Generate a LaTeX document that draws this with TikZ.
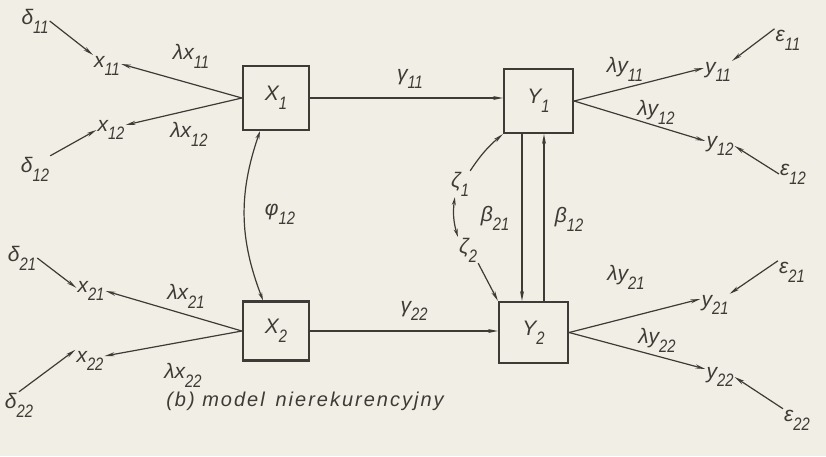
\documentclass[tikz,border=0pt]{standalone}
\usepackage{fontspec}
\usepackage{graphicx}
\setmainfont{Liberation Sans}
\newfontfamily\capfont[LetterSpace=10]{Liberation Sans}
\usetikzlibrary{arrows.meta}
\definecolor{paper}{RGB}{241,238,229}
\definecolor{ink}{RGB}{62,58,54}
\newcommand\lb[2]{#1\raisebox{-0.42em}{\scalebox{0.82}[1]{\fontsize{18}{18}\selectfont #2}}}
\begin{document}
\begin{tikzpicture}[x=1pt,y=-1pt,
  every node/.style={text=ink, font=\fontsize{21}{21}\selectfont\itshape, inner sep=1pt},
  box/.style={draw=ink, line width=2.2pt, inner sep=0pt},
  arr/.style={draw=ink, line width=1.2pt, -{Stealth[length=10pt,width=4pt]}},
  darr/.style={draw=ink, line width=1.2pt, {Stealth[length=8pt,width=4pt]}-{Stealth[length=8pt,width=4pt]}}]
\fill[paper] (0,0) rectangle (826,456);
\useasboundingbox (0,0) rectangle (826,456);
% boxes
\node[box, minimum width=66pt, minimum height=64pt] (X1) at (276,98) {\lb{X}{1}};
\node[box, minimum width=69pt, minimum height=64pt] (Y1) at (538.5,101) {\lb{Y}{1}};
\node[box, minimum width=66pt, minimum height=59pt] (X2) at (276,331) {\lb{X}{2}};
\node[box, minimum width=69pt, minimum height=61pt] (Y2) at (533.5,332.5) {\lb{Y}{2}};
% left labels
\node (d11) at (35,21) {\lb{δ}{11}};
\node (x11) at (107,66) {\lb{x}{11}};
\node (lx11) at (191,56) {\lb{λx}{11}};
\node (x12) at (111,130) {\lb{x}{12}};
\node (lx12) at (189,134) {\lb{λx}{12}};
\node (d12) at (35,169) {\lb{δ}{12}};
\node (d21) at (22,258) {\lb{δ}{21}};
\node (x21) at (91,291) {\lb{x}{21}};
\node (lx21) at (186,296) {\lb{λx}{21}};
\node (x22) at (90,361) {\lb{x}{22}};
\node (lx22) at (183,375) {\lb{λx}{22}};
\node (d22) at (19,405) {\lb{δ}{22}};
% middle labels
\node (g11) at (410,79) {\lb{γ}{11}};
\node (g22) at (414,311) {\lb{γ}{22}};
\node (phi) at (280,214) {\lb{φ}{12}};
\node (z1) at (460,184) {\lb{ζ}{1}};
\node (z2) at (468,250) {\lb{ζ}{2}};
\node (b21) at (495,218) {\lb{β}{21}};
\node (b12) at (569,219) {\lb{β}{12}};
% right labels
\node (ly11) at (625,69) {\lb{λy}{11}};
\node (y11) at (718,72) {\lb{y}{11}};
\node (e11) at (788,40) {\lb{ε}{11}};
\node (ly12) at (656,112) {\lb{λy}{12}};
\node (y12) at (720,146) {\lb{y}{12}};
\node (e12) at (793,174) {\lb{ε}{12}};
\node (ly21) at (626,277) {\lb{λy}{21}};
\node (y21) at (715,305) {\lb{y}{21}};
\node (e21) at (792,272) {\lb{ε}{21}};
\node (ly22) at (657,340) {\lb{λy}{22}};
\node (y22) at (720,377) {\lb{y}{22}};
\node (e22) at (797,420) {\lb{ε}{22}};
% caption
\node (cap) at (305,401) {\fontsize{20}{20}\selectfont\capfont\itshape (b) model\ \,nierekurencyjny};
% connectors: X side
\draw[arr] (X1.west) -- ([yshift=2pt]x11.east);
\draw[arr] (X1.west) -- ([yshift=5pt]x12.east);
\draw[arr] (d11.east) -- (x11.north west);
\draw[arr] (d12.north east) -- (x12.west);
\draw[arr] (X2.west) -- (x21.east);
\draw[arr] (X2.west) -- ([yshift=5pt]x22.east);
\draw[arr] (d21.east) -- ([yshift=-8pt]x21.north west);
\draw[arr] (d22.north) -- (x22.north west);
% structural
\draw[arr] (X1.east) -- (X1.east -| Y1.west);
\draw[arr] (X2.east) -- (X2.east -| Y2.west);
\draw[darr] ([xshift=-16pt]X1.south) to[bend right=20] ([xshift=-13pt]X2.north);
\draw[arr] ([xshift=-16.5pt]Y1.south) -- ([xshift=-11.5pt]Y2.north);
\draw[arr] ([xshift=10.5pt]Y2.north) -- ([xshift=5.5pt]Y1.south);
\draw[arr] (z1.north east) to[bend left=8] (Y1.south west);
\draw[arr] (z2.south east) -- (Y2.north west);
\draw[darr] ([xshift=5pt]z1.south west) to[bend right=12] (z2.north west);
% Y side
\draw[arr] (Y1.east) -- ([yshift=4pt]y11.west);
\draw[arr] (Y1.east) -- ([yshift=5pt]y12.west);
\draw[arr] (e11.north west) -- (y11.north east);
\draw[arr] (e12.west) -- (y12.east);
\draw[arr] (Y2.east) -- ([yshift=6pt]y21.west);
\draw[arr] (Y2.east) -- ([yshift=8pt]y22.west);
\draw[arr] (e21.north west) -- (y21.north east);
\draw[arr] (e22.north west) -- (y22.east);
\end{tikzpicture}
\end{document}
